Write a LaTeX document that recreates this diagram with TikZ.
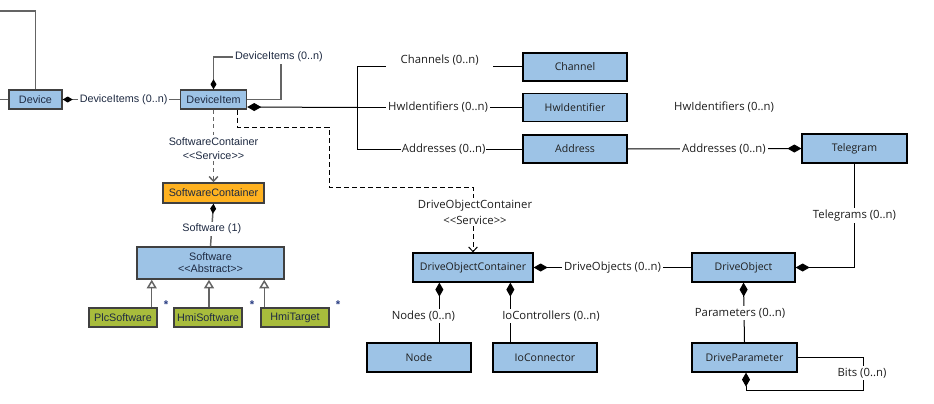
\documentclass[tikz,border=0pt]{standalone}
\usepackage{fontspec}
\setmainfont{Liberation Sans}
\newfontfamily\uifont{Open Sans}
\usetikzlibrary{arrows.meta,calc}
\definecolor{boxblue}{RGB}{157,195,230}
\definecolor{boxorange}{RGB}{255,178,32}
\definecolor{boxgreen}{RGB}{168,188,60}
\definecolor{edgegrey}{RGB}{64,64,64}
\definecolor{linegrey}{RGB}{100,100,100}
\definecolor{navytext}{RGB}{30,42,66}
\definecolor{starblue}{RGB}{40,60,130}
\definecolor{uitext}{RGB}{30,30,30}
% stereotype in guillemet-free angle brackets
\newcommand{\stereo}[1]{\textless\kern0pt\textless\kern0pt #1\kern0pt\textgreater\kern0pt\textgreater}
\tikzset{
  ldia/.tip={Diamond[length=7.5pt,width=4.5pt,color=black]},
  rdia/.tip={Diamond[length=10.5pt,width=6pt,color=black]},
  gen/.tip={Triangle[open,length=6.5pt,width=7.5pt]},
  dep/.tip={Straight Barb[length=3.5pt,width=6.5pt]},
}
\begin{document}
\begin{tikzpicture}[x=0.75pt,y=-0.75pt,
  lbox/.style={draw=edgegrey, line width=1.1pt, fill=boxblue, text=navytext,
    font=\fontsize{8.1}{9}\selectfont, inner sep=0pt, minimum height=14.25pt, align=center},
  rbox/.style={draw=black, line width=0.95pt, fill=boxblue, text=uitext,
    font=\uifont\fontsize{7.9}{9}\selectfont, inner sep=0pt, minimum width=78pt, minimum height=21pt},
  llbl/.style={fill=white, text=navytext, font=\fontsize{8.1}{10.5}\selectfont, inner sep=1.5pt, align=center},
  rlbl/.style={fill=white, text=uitext, font=\uifont\fontsize{8.5}{12}\selectfont, inner sep=1.5pt, align=center},
  lconn/.style={draw=linegrey, line width=1.1pt},
  rconn/.style={draw=black, line width=0.75pt},
  ldash/.style={draw=linegrey, line width=1.1pt, dash pattern=on 3pt off 2.5pt},
  rdash/.style={draw=black, line width=0.75pt, dash pattern=on 3.75pt off 2.25pt},
  starmark/.style={text=starblue, font=\bfseries\fontsize{8.5}{9}\selectfont, inner sep=0pt},
]
\path[use as bounding box] (0,0) rectangle (934,403);

% ---- device model (left) ----
\node[lbox, minimum width=39.75pt] (device) at (35.5,99.5) {Device};
\node[lbox, minimum width=49.5pt] (item) at (213.5,99.5) {DeviceItem};
\node[lbox, fill=boxorange, minimum width=75.75pt, minimum height=15pt] (swc) at (213.5,193) {SoftwareContainer};
\node[lbox, minimum width=110.25pt, minimum height=24pt] (sw) at (210.5,263) {Software\\\stereo{Abstract}};
\node[lbox, fill=boxgreen, minimum width=51pt] (plc) at (123,317.5) {PlcSoftware};
\node[lbox, fill=boxgreen, minimum width=51pt] (hmis) at (208,317.5) {HmiSoftware};
\node[lbox, fill=boxgreen, minimum width=51pt] (hmit) at (295,317.5) {HmiTarget};
\node[starmark] (star1) at (166,305) {*};
\node[starmark] (star2) at (252,305) {*};
\node[starmark] (star3) at (338,305) {*};

\coordinate (tl) at (0,11);
\coordinate (lin) at (0,99.5);
\draw[lconn] (tl) -| (device.north);
\draw[lconn] (lin) -- (device.west);
\draw[lconn, ldia-] (device.east) -- node[llbl, pos=0.52]{DeviceItems (0..n)} (item.west);

\coordinate (loopR) at (281,57);
\coordinate (loopL) at (213.5,57);
\draw[lconn, -ldia] (item.east) -| (loopR) -- (loopL) -- (item.north);
\node[llbl] (selflbl) at (279,57) {DeviceItems (0..n)};

\draw[ldash, -dep] (item.south) -- node[llbl, pos=0.53]{SoftwareContainer\\\stereo{Service}} (swc.north);
\draw[lconn, ldia-] (swc.south) -- node[llbl, pos=0.59]{Software (1)} (sw.north);

\coordinate (g1) at ($(plc.north east)+(-6,0)$);
\coordinate (g2) at ($(hmis.north)+(1,0)$);
\coordinate (g3) at ($(hmit.north west)+(4,0)$);
\draw[lconn, -gen] (g1) -- (g1 |- sw.south);
\draw[lconn, -gen] (g2) -- (g2 |- sw.south);
\draw[lconn, -gen] (g3) -- (g3 |- sw.south);

% ---- hardware and drive objects (right) ----
\node[rbox] (chan) at (575,67) {Channel};
\node[rbox] (hwid) at (575,107.5) {HwIdentifier};
\node[rbox] (addr) at (575,149) {Address};
\node[rbox, minimum width=78.75pt, minimum height=21.75pt] (tele) at (854.5,148.5) {Telegram};
\node[rbox, minimum width=90pt, minimum height=21.75pt] (doc) at (473,267.5) {DriveObjectContainer};
\node[rbox, minimum width=77.25pt, minimum height=21.75pt] (dobj) at (743.5,267.5) {DriveObject};
\node[rbox, minimum height=21.75pt] (nodebox) at (419,357.5) {Node};
\node[rbox, minimum height=21.75pt] (ioc) at (545,357.5) {IoConnector};
\node[rbox, minimum width=78.75pt, minimum height=21.75pt] (dpar) at (744.5,357.5) {DriveParameter};

\coordinate (busA) at (357,67);
\coordinate (busB) at (357,107.5);
\coordinate (busC) at (357,149);
\draw[rconn, rdia-] ($(item.east)+(0,7.5)$) -- (busB);
\draw[rconn] (busA) -- (busC);
\draw[rconn] (busA) -- node[rlbl, yshift=5.25pt, inner xsep=11pt]{Channels (0..n)} (chan.west);
\draw[rconn] (busB) -- node[rlbl, pos=0.49]{HwIdentifiers (0..n)} (hwid.west);
\draw[rconn] (busC) -- node[rlbl, pos=0.524, inner xsep=0.5pt]{Addresses (0..n)} (addr.west);

\draw[rconn, -rdia] (addr.east) -- node[rlbl, pos=0.554]{Addresses (0..n)} (tele.west);
\node[rlbl] (hwnote) at (724,107) {HwIdentifiers (0..n)};
\draw[rconn, -rdia] (tele.south) |- node[rlbl, pos=0.25]{Telegrams (0..n)} (dobj.east);

\coordinate (dA) at (329,127);
\coordinate (dB) at (329,187);
\draw[rdash, -dep] ($(item.south east)+(-9.5,0)$) |- (dA) -- (dB) -| (doc.north);
\node[rlbl] (doclbl) at (475,212) {DriveObjectContainer\\\stereo{Service}};

\draw[rconn, rdia-] (doc.east) -- node[rlbl]{DriveObjects (0..n)} (dobj.west);

\coordinate (docN) at ($(doc.south west)+(27,0)$);
\coordinate (docI) at ($(doc.south west)+(98,0)$);
\draw[rconn, rdia-] (docN) -- node[rlbl, pos=0.56, xshift=-12pt]{Nodes (0..n)} (docN |- nodebox.north);
\draw[rconn, rdia-] (docI) -- (docI |- ioc.north);
\node[rlbl] (ioclbl) at (551,316) {IoControllers (0..n)};

\draw[rconn, rdia-] (dobj.south) -- node[rlbl, pos=0.51, xshift=-3pt]{Parameters (0..n)} (dpar.north);

\coordinate (bitsR) at (863,390);
\draw[rconn, -rdia] (dpar.east) -| (bitsR) -| ($(dpar.south)+(1.5,0)$);
\node[rlbl] (bitslbl) at (862,373) {Bits (0..n)};
\end{tikzpicture}
\end{document}
